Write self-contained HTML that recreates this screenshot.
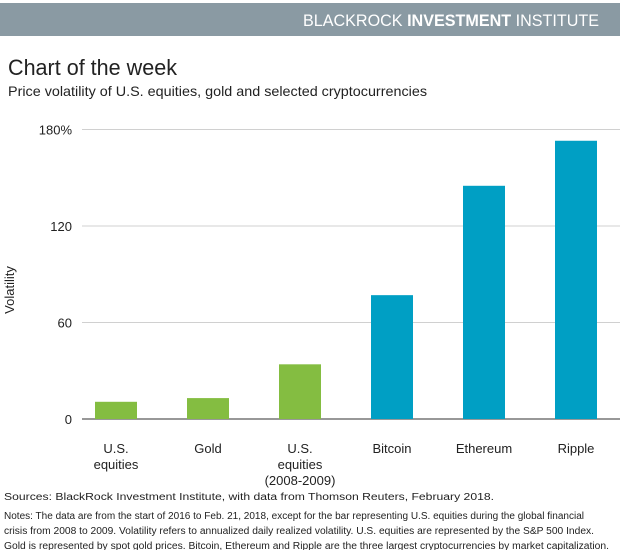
<!DOCTYPE html>
<html><head><meta charset="utf-8"><style>
body{margin:0;background:#fff;}
svg{display:block;font-family:"Liberation Sans",sans-serif;}
</style></head><body>
<svg width="620" height="550" viewBox="0 0 620 550">
<rect x="0" y="3" width="620" height="33" fill="#8a9aa3"/>
<text x="599" y="26" text-anchor="end" font-size="17" fill="#fff" textLength="296" lengthAdjust="spacingAndGlyphs">BLACKROCK <tspan font-weight="bold">INVESTMENT</tspan> INSTITUTE</text>
<text x="8" y="75" font-size="22" fill="#222" textLength="169" lengthAdjust="spacingAndGlyphs">Chart of the week</text>
<text x="8" y="96" font-size="14" fill="#222" textLength="419" lengthAdjust="spacingAndGlyphs">Price volatility of U.S. equities, gold and selected cryptocurrencies</text>
<g id="grid"></g>
<g id="bars"></g>
<g id="xlabels"></g>
<text transform="translate(14,290) rotate(-90)" text-anchor="middle" font-size="13" fill="#222">Volatility</text>
<g font-size="10" fill="#222">
<text x="4" y="500" textLength="490" lengthAdjust="spacingAndGlyphs">Sources: BlackRock Investment Institute, with data from Thomson Reuters, February 2018.</text>
<text x="4" y="519" textLength="580" lengthAdjust="spacingAndGlyphs">Notes: The data are from the start of 2016 to Feb. 21, 2018, except for the bar representing U.S. equities during the global financial</text>
<text x="4" y="534" textLength="590" lengthAdjust="spacingAndGlyphs">crisis from 2008 to 2009. Volatility refers to annualized daily realized volatility. U.S. equities are represented by the S&amp;P 500 Index.</text>
<text x="4" y="549" textLength="605" lengthAdjust="spacingAndGlyphs">Gold is represented by spot gold prices. Bitcoin, Ethereum and Ripple are the three largest cryptocurrencies by market capitalization.</text>
</g>
</svg>
<script>
const categories = [["U.S.","equities"],["Gold"],["U.S.","equities","(2008-2009)"],["Bitcoin"],["Ethereum"],["Ripple"]];
const values = [10.7, 13, 34, 77, 145, 173];
const barColors = ["#84bd41","#84bd41","#84bd41","#009fc4","#009fc4","#009fc4"];
const yTicks = [0, 60, 120, 180];
const yTickLabels = ["0","60","120","180%"];
const NS="http://www.w3.org/2000/svg";
const plotLeft=82, plotRight=620, y0=419, y180=129.5;
function yScale(v){return y0-(v/180)*(y0-y180);}
function xCenter(i){return 116+i*92;}
const barW=42;
function mk(tag,attrs,parent){const e=document.createElementNS(NS,tag);for(const k in attrs)e.setAttribute(k,attrs[k]);parent.appendChild(e);return e;}
const grid=document.getElementById('grid');
yTicks.forEach((t,i)=>{
  const y=yScale(t);
  const l=mk('line',{x1:plotLeft,x2:plotRight,y1:y,y2:y,stroke:t===0?'#777':'#d0d0d0','stroke-width':t===0?1.5:1},grid);
  
  
  const tx=mk('text',{x:72,y:y+5,'text-anchor':'end','font-size':13,fill:'#222'},grid);
  tx.textContent=yTickLabels[i];
  
  
});
const bars=document.getElementById('bars');
values.forEach((v,i)=>{
  const r=mk('rect',{x:xCenter(i)-barW/2,y:yScale(v),width:barW,height:y0-yScale(v),fill:barColors[i]},bars);
  
  
});
const xl=document.getElementById('xlabels');
categories.forEach((lines,i)=>{
  const t=mk('text',{x:xCenter(i),y:453,'text-anchor':'middle','font-size':13,fill:'#222'},xl);
  
  
  lines.forEach((s,j)=>{const ts=mk('tspan',{x:xCenter(i),dy:j===0?0:16},t);ts.textContent=s;});
});
</script>
</body></html>
